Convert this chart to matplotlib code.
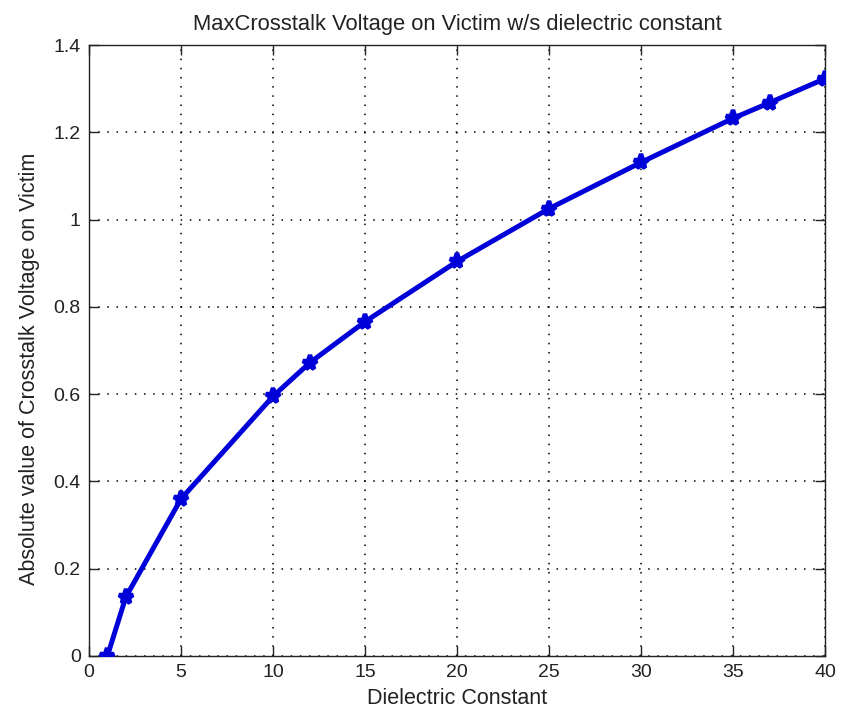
import matplotlib
matplotlib.use("Agg")
import matplotlib.pyplot as plt

# dielectric constant vs. max crosstalk voltage seen on the victim line
dielectric_constant = [1, 2, 5, 10, 12, 15, 20, 25, 30, 35, 37, 40]
crosstalk_voltage = [0.0, 0.135, 0.36, 0.595, 0.672, 0.766, 0.904, 1.025,
                     1.131, 1.232, 1.268, 1.323]
x_ticks = [0, 5, 10, 15, 20, 25, 30, 35, 40]
y_ticks = [0, 0.2, 0.4, 0.6, 0.8, 1.0, 1.2, 1.4]
y_tick_labels = ["0", "0.2", "0.4", "0.6", "0.8", "1", "1.2", "1.4"]

plt.rcParams["font.family"] = ["Liberation Sans", "DejaVu Sans"]

fig = plt.figure(figsize=(8.46, 7.17), dpi=100)
ax = fig.add_axes([89 / 846, 1 - 656 / 717, (825 - 89) / 846, (656 - 45) / 717])

ax.plot(dielectric_constant, crosstalk_voltage, color="#0000d8", linewidth=3.6,
        marker="*", markersize=11, markeredgewidth=3.2, zorder=3)

ax.set_xlim(0, 40)
ax.set_ylim(0, 1.4)
ax.set_xticks(x_ticks)
ax.set_yticks(y_ticks)
ax.set_yticklabels(y_tick_labels)
ax.tick_params(direction="in", length=7, width=1, labelsize=14, colors="#222222",
               top=True, right=True, pad=6)
ax.grid(True, color="black", linestyle=(0, (1, 5)), linewidth=1.1)
for s in ax.spines.values():
    s.set_linewidth(1.0)
    s.set_color("#222222")

ax.set_title("MaxCrosstalk Voltage on Victim w/s dielectric constant",
             fontsize=15.8, color="#222222", pad=11)
ax.set_xlabel("Dielectric Constant", fontsize=15.5, color="#222222", labelpad=5)
ax.set_ylabel("Absolute value of Crosstalk Voltage on Victim", fontsize=15.5,
              color="#222222")
ax.yaxis.set_label_coords(-0.066, 0.47)

fig.savefig("out.png", dpi=100)
